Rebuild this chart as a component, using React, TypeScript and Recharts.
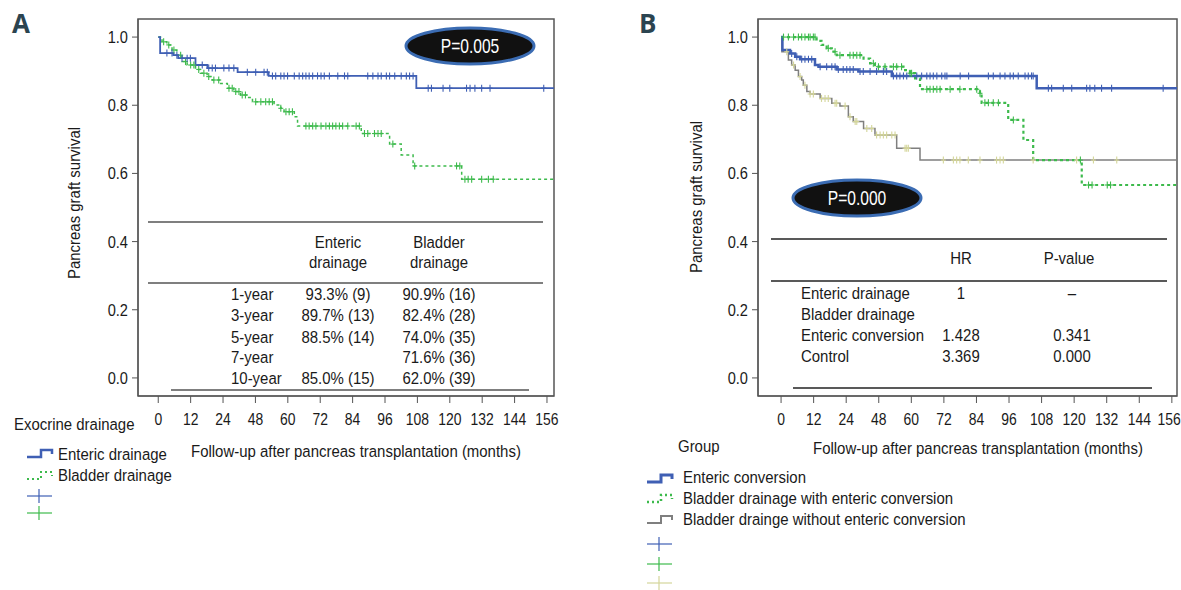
import React from "react";
import {
  ComposedChart,
  Line,
  Scatter,
  XAxis,
  YAxis,
  ReferenceArea,
} from "recharts";

const FONT = "'Liberation Sans', Arial, sans-serif";
const SQUEEZE = 0.88; // the figure uses a condensed face

// axis positions and the labels printed under them (the figure labels them 0,12,24,48,...)
const X_TICKS = [0, 12, 24, 36, 48, 60, 72, 84, 96, 108, 120, 132, 144];
const X_LABELS = ["0", "12", "24", "48", "60", "72", "84", "96", "108", "120", "132", "144", "156"];
const Y_TICKS = [0, 0.2, 0.4, 0.6, 0.8, 1.0];

// Panel A: Kaplan-Meier steps [time, survival]
const A_ENTERIC: [number, number][] = [
  [0, 1], [0.7, 0.953], [5.6, 0.947], [7.4, 0.938], [13.8, 0.918], [18.2, 0.909],
  [29.4, 0.897], [40.9, 0.886], [95.6, 0.85], [146.6, 0.85],
];
const A_BLADDER: [number, number][] = [
  [0, 1], [1.4, 0.986], [3.2, 0.977], [5.1, 0.962], [6.9, 0.947], [8.8, 0.928],
  [10.7, 0.918], [13.8, 0.905], [15.6, 0.894], [18.1, 0.884], [20, 0.874],
  [23.1, 0.864], [25.6, 0.85], [28, 0.84], [30.5, 0.83], [33, 0.823], [34.9, 0.81],
  [42.9, 0.801], [45.4, 0.791], [46.6, 0.781], [50.4, 0.766], [51.6, 0.739],
  [75.2, 0.717], [85.7, 0.686], [90, 0.654], [94.4, 0.622], [112.4, 0.583], [146.6, 0.583],
];
const A_ENTERIC_CENSOR = [
  3.2, 5.1, 6.9, 8.8, 10.7, 11.9, 16.3, 18.7, 20, 21.2, 24.3, 26.2, 28, 33, 36.1, 39.2,
  40.4, 42.3, 43.5, 45.4, 46.6, 47.9, 50.4, 52.2, 53.5, 54.7, 55.9, 57.2, 59, 60.3, 61.5,
  63.4, 66.5, 69, 70.2, 77.6, 79.5, 81.4, 82.6, 84.5, 85.7, 87.6, 90, 91.9, 93.1, 94.4,
  100, 101.2, 105.5, 108, 114.2, 115.5, 117.3, 119.8, 122.9, 142.8,
];
const A_BLADDER_CENSOR = [
  2, 3.9, 5.8, 8.3, 10.1, 12, 13.2, 15, 16.9, 18.7, 20.6, 22.4, 26.2, 27.4, 28.7, 29.9,
  31.1, 32.3, 36.1, 38, 39.8, 41.1, 42.3, 45.4, 47.3, 48.5, 49.7, 54.7, 55.9, 57.2, 58.4,
  60.3, 62.1, 63.4, 64.6, 65.8, 67.1, 68.3, 70.2, 73.3, 74.5, 76.4, 77.6, 80.1, 81.4,
  82.6, 86.9, 95, 110.5, 111.7, 113.6, 114.8, 116.1, 119.8, 122.3, 124.1,
];

// Panel B
const B_ENTERIC: [number, number][] = [
  [0, 1], [0.5, 0.962], [3.3, 0.952], [5.2, 0.942], [7, 0.935], [12.5, 0.918],
  [13.8, 0.913], [20.5, 0.905], [28.5, 0.899], [40.8, 0.886], [94.2, 0.85], [145.9, 0.85],
];
const B_BLADDER_CONV: [number, number][] = [
  [0, 1], [13.1, 0.989], [14.9, 0.977], [16.8, 0.967], [18.7, 0.957], [20.5, 0.947],
  [30.4, 0.937], [32.8, 0.923], [34.6, 0.913], [45.1, 0.903], [47.5, 0.894],
  [49.4, 0.879], [51.2, 0.847], [73.3, 0.835], [73.9, 0.807], [83.7, 0.757],
  [89.3, 0.698], [92.9, 0.639], [110.8, 0.566], [145.9, 0.566],
];
const B_CONTROL: [number, number][] = [
  [0, 1], [0.3, 0.957], [2.7, 0.933], [3.9, 0.918], [5.2, 0.903], [6.4, 0.884],
  [7.6, 0.874], [8.2, 0.859], [9.5, 0.84], [10.7, 0.833], [14.4, 0.82], [18.7, 0.806],
  [21.7, 0.798], [24.8, 0.766], [26.6, 0.752], [30.4, 0.732], [34.6, 0.713],
  [42.6, 0.674], [51.2, 0.639], [145.9, 0.639],
];
const B_ENTERIC_CENSOR = [
  3.9, 5.8, 7.6, 8.8, 10.1, 11.3, 14.4, 16.8, 18.7, 19.9, 21.1, 22.9, 24.2, 25.4, 26.6,
  29.1, 30.3, 32.8, 35.2, 37.7, 38.9, 41.4, 42.6, 43.8, 45.1, 46.3, 50, 51.8, 53.7, 54.9,
  56.1, 57.4, 59.2, 60.4, 61.1, 66, 69.1, 76.4, 78.2, 80.7, 82.5, 84.4, 85.6, 87.4,
  89.9, 91.1, 92.3, 92.9, 98.5, 99.7, 104, 107.1, 112.6, 113.8, 115.6, 118.1, 121.8, 140.8,
];
const B_BLADDER_CONV_CENSOR = [
  0.9, 2.7, 4.6, 6.4, 7.6, 8.8, 10.1, 10.7, 11.9, 12.5, 17.4, 19.9, 21.7, 25.4, 26.6,
  27.9, 29.1, 34, 35.9, 38.3, 41.4, 42.6, 44.4, 47.5, 48.1, 53.7, 54.9, 56.1, 57.4, 58.6,
  62.3, 65.9, 72.1, 73.3, 75.1, 76.4, 78.2, 80.1, 85.6, 110.3, 113.3, 114.6, 120.2, 121.4,
];
const B_CONTROL_CENSOR = [
  2.1, 4.6, 7, 8.8, 10.7, 11.9, 14.9, 16.2, 17.4, 19.9, 20.5, 23.6, 25.4, 27.3, 27.9,
  31.6, 33.4, 35.2, 36.5, 37.7, 38.9, 40.8, 42, 45.7, 46.3, 46.9, 59.8, 63.5, 64.7,
  65.9, 69, 73.3, 79.4, 80.7, 81.9, 92.9, 108.9, 115.1, 123.7,
];

// Tables inside the plots
const A_TABLE_HEAD = [["Enteric", "drainage"], ["Bladder", "drainage"]];
const A_TABLE_ROWS = ["1-year", "3-year", "5-year", "7-year", "10-year"];
const A_TABLE_ENTERIC = ["93.3% (9)", "89.7% (13)", "88.5% (14)", "", "85.0% (15)"];
const A_TABLE_BLADDER = ["90.9% (16)", "82.4% (28)", "74.0% (35)", "71.6% (36)", "62.0% (39)"];

const B_TABLE_HEAD = ["HR", "P-value"];
const B_TABLE_ROWS = ["Enteric drainage", "Bladder drainage", "Enteric conversion", "Control"];
const B_TABLE_HR = ["1", "", "1.428", "3.369"];
const B_TABLE_P = ["–", "", "0.341", "0.000"];

const BLUE = "#3f5fb4";
const GREEN = "#3dba4c";
const GRAY = "#7f7f7f";
const YELLOW = "#d4d69a";
const FRAME = "#555";
const INK = "#1a1a1a";
const Y_DOMAIN: [number, number] = [-0.053, 1.053];

const toRows = (steps: [number, number][]) => steps.map(([t, s]) => ({ t, s }));
const survivalAt = (steps: [number, number][], t: number) => {
  let s = steps[0][1];
  for (const [st, sv] of steps) if (st <= t) s = sv;
  return s;
};
const censorRows = (steps: [number, number][], times: number[]) =>
  times.map((t) => ({ t, s: survivalAt(steps, t) }));

// condensed text: drawn at (x, y) and squeezed horizontally
function CText({
  x, y, children, size = 17, anchor = "start", fill = INK, rotate = 0, squeeze = SQUEEZE, dy,
}: {
  x: number; y: number; children: React.ReactNode; size?: number; anchor?: string;
  fill?: string; rotate?: number; squeeze?: number; dy?: string;
}) {
  return (
    <text
      transform={`translate(${x},${y}) rotate(${rotate}) scale(${squeeze},1)`}
      fontSize={size}
      fill={fill}
      textAnchor={anchor as any}
      fontFamily={FONT}
      dy={dy}
    >
      {children}
    </text>
  );
}

// keeps the last label inside the chart's own box
const makeXTick = (maxX: number) => (props: any) => {
  const { x, y, payload } = props;
  return (
    <CText x={Math.min(x, maxX)} y={y} anchor="middle" dy="0.71em" squeeze={0.82}>
      {X_LABELS[X_TICKS.indexOf(payload.value)] ?? ""}
    </CText>
  );
};
const YTick = (props: any) => {
  const { x, y, payload } = props;
  return (
    <CText x={x} y={y} anchor="end" dy="0.355em" squeeze={0.86}>
      {Number(payload.value).toFixed(1)}
    </CText>
  );
};

const crossShape = (color: string) => (props: any) => {
  const { cx, cy } = props;
  return (
    <g stroke={color} strokeWidth={1.1}>
      <line x1={cx} x2={cx} y1={cy - 3.5} y2={cy + 3.5} />
      <line x1={cx - 2.5} x2={cx + 2.5} y1={cy} y2={cy} />
    </g>
  );
};

type Series = {
  steps: [number, number][];
  censor: number[];
  color: string;
  censorColor: string;
  width: number;
  dash?: string;
};

function KMPanel({
  left, width, marginLeft, marginRight, xDomain, series,
}: {
  left: number; width: number; marginLeft: number; marginRight: number;
  xDomain: [number, number]; series: Series[];
}) {
  const height = 590;
  return (
    <div style={{ position: "absolute", left, top: 0 }}>
      <ComposedChart
        width={width}
        height={height}
        margin={{ top: 19, right: marginRight, bottom: height - 396 - 40, left: marginLeft }}
      >
        <XAxis
          type="number"
          dataKey="t"
          domain={xDomain}
          allowDataOverflow
          ticks={X_TICKS}
          tick={makeXTick(width - 12)}
          tickSize={7}
          tickMargin={10}
          height={40}
          stroke={FRAME}
          interval={0}
        />
        <YAxis
          type="number"
          dataKey="s"
          domain={Y_DOMAIN}
          allowDataOverflow
          ticks={Y_TICKS}
          tick={YTick}
          tickSize={6}
          tickMargin={4}
          width={40}
          stroke={FRAME}
          interval={0}
        />
        <ReferenceArea
          x1={xDomain[0]}
          x2={xDomain[1]}
          y1={Y_DOMAIN[0]}
          y2={Y_DOMAIN[1]}
          fill="none"
          stroke={FRAME}
          strokeWidth={1.5}
          ifOverflow="visible"
        />
        {series.map((sr, i) => (
          <Line
            key={"l" + i}
            data={toRows(sr.steps)}
            dataKey="s"
            type="stepAfter"
            stroke={sr.color}
            strokeWidth={sr.width}
            strokeDasharray={sr.dash}
            dot={false}
            activeDot={false}
            isAnimationActive={false}
          />
        ))}
        {series.map((sr, i) => (
          <Scatter
            key={"c" + i}
            data={censorRows(sr.steps, sr.censor)}
            dataKey="s"
            shape={crossShape(sr.censorColor)}
            isAnimationActive={false}
          />
        ))}
      </ComposedChart>
    </div>
  );
}

function PEllipse({ cx, cy, text }: { cx: number; cy: number; text: string }) {
  return (
    <g>
      <ellipse cx={cx} cy={cy} rx={64} ry={18} fill="#111" stroke="#3b6cb3" strokeWidth={3} />
      <CText x={cx} y={cy + 7} anchor="middle" fill="#fff" size={20} squeeze={0.78}>
        {text}
      </CText>
    </g>
  );
}

function StepIcon({ x, y, color, dash, width }: { x: number; y: number; color: string; dash?: string; width: number }) {
  return (
    <path
      d={`M${x} ${y + 4} H${x + 14} V${y - 3} H${x + 25} V${y + 1}`}
      fill="none"
      stroke={color}
      strokeWidth={width}
      strokeDasharray={dash}
    />
  );
}

function CrossIcon({ x, y, color }: { x: number; y: number; color: string }) {
  return (
    <g stroke={color} strokeWidth={1.2}>
      <line x1={x} x2={x + 25} y1={y} y2={y} />
      <line x1={x + 12} x2={x + 12} y1={y - 7} y2={y + 7} />
    </g>
  );
}

function Overlay() {
  const rowYA = [294, 315, 337, 357, 378];
  const rowYB = [293, 314, 335, 356];
  const headXA = [338, 439];
  return (
    <svg
      width={1181}
      height={590}
      style={{ position: "absolute", left: 0, top: 0, pointerEvents: "none" }}
    >
      {/* panel letters */}
      <text x={12} y={33} fontSize={26} fontWeight="bold" fill="#2b4450" fontFamily="'Open Sans', sans-serif">A</text>
      <text x={639} y={33} fontSize={26} fontWeight="bold" fill="#2b4450" fontFamily="'Open Sans', sans-serif">B</text>

      {/* y axis titles */}
      <CText x={80} y={203} rotate={-90} anchor="middle">Pancreas graft survival</CText>
      <CText x={702} y={197} rotate={-90} anchor="middle">Pancreas graft survival</CText>

      {/* x axis titles */}
      <CText x={191} y={457}>Follow-up after pancreas transplantation (months)</CText>
      <CText x={813} y={454}>Follow-up after pancreas transplantation (months)</CText>

      <PEllipse cx={470} cy={46} text="P=0.005" />
      <PEllipse cx={857} cy={198} text="P=0.000" />

      {/* table A */}
      <g stroke="#555" strokeWidth={1.5}>
        <line x1={148} x2={543} y1={222} y2={222} />
        <line x1={148} x2={543} y1={283} y2={283} />
        <line x1={171} x2={529} y1={390} y2={390} />
      </g>
      {A_TABLE_HEAD.map((h, i) => (
        <g key={i}>
          <CText x={headXA[i]} y={248} anchor="middle">{h[0]}</CText>
          <CText x={headXA[i]} y={268} anchor="middle">{h[1]}</CText>
        </g>
      ))}
      {A_TABLE_ROWS.map((r, i) => (
        <g key={r}>
          <CText x={231} y={rowYA[i] + 6}>{r}</CText>
          <CText x={338} y={rowYA[i] + 6} anchor="middle">{A_TABLE_ENTERIC[i]}</CText>
          <CText x={439} y={rowYA[i] + 6} anchor="middle">{A_TABLE_BLADDER[i]}</CText>
        </g>
      ))}

      {/* table B */}
      <g stroke="#222" strokeWidth={1.5}>
        <line x1={771} x2={1167} y1={239} y2={239} />
        <line x1={771} x2={1167} y1={281} y2={281} />
        <line x1={793} x2={1152} y1={388} y2={388} />
      </g>
      <CText x={961} y={264} anchor="middle">{B_TABLE_HEAD[0]}</CText>
      <CText x={1069} y={264} anchor="middle">{B_TABLE_HEAD[1]}</CText>
      {B_TABLE_ROWS.map((r, i) => (
        <g key={r}>
          <CText x={801} y={rowYB[i] + 6}>{r}</CText>
          <CText x={961} y={rowYB[i] + 6} anchor="middle">{B_TABLE_HR[i]}</CText>
          <CText x={1072} y={rowYB[i] + 6} anchor="middle">{B_TABLE_P[i]}</CText>
        </g>
      ))}

      {/* legend A */}
      <CText x={14} y={430}>Exocrine drainage</CText>
      <StepIcon x={27} y={453} color={BLUE} width={2.5} />
      <CText x={58} y={460}>Enteric drainage</CText>
      <StepIcon x={27} y={475} color={GREEN} width={2} dash="2 3" />
      <CText x={58} y={481}>Bladder drainage</CText>
      <CrossIcon x={27} y={496} color={BLUE} />
      <CrossIcon x={27} y={513} color={GREEN} />

      {/* legend B */}
      <CText x={678} y={452}>Group</CText>
      <StepIcon x={647} y={478} color={BLUE} width={3} />
      <CText x={683} y={483}>Enteric conversion</CText>
      <StepIcon x={647} y={498} color={GREEN} width={2.5} dash="2 3" />
      <CText x={683} y={504}>Bladder drainage with enteric conversion</CText>
      <StepIcon x={647} y={519} color={GRAY} width={2} />
      <CText x={683} y={525}>Bladder drainge without enteric conversion</CText>
      <CrossIcon x={647} y={544} color={BLUE} />
      <CrossIcon x={647} y={564} color={GREEN} />
      <CrossIcon x={647} y={583} color={YELLOW} />
    </svg>
  );
}

export default function App() {
  const seriesA: Series[] = [
    { steps: A_BLADDER, censor: A_BLADDER_CENSOR, color: GREEN, censorColor: GREEN, width: 1.5, dash: "3 3" },
    { steps: A_ENTERIC, censor: A_ENTERIC_CENSOR, color: BLUE, censorColor: BLUE, width: 1.8 },
  ];
  const seriesB: Series[] = [
    { steps: B_CONTROL, censor: B_CONTROL_CENSOR, color: GRAY, censorColor: YELLOW, width: 1.5 },
    { steps: B_BLADDER_CONV, censor: B_BLADDER_CONV_CENSOR, color: GREEN, censorColor: GREEN, width: 2.2, dash: "3 3" },
    { steps: B_ENTERIC, censor: B_ENTERIC_CENSOR, color: BLUE, censorColor: BLUE, width: 2.5 },
  ];
  return (
    <div
      style={{
        position: "absolute",
        left: 0,
        top: 0,
        width: 1181,
        height: 590,
        background: "#fff",
        fontFamily: FONT,
        overflow: "hidden",
      }}
    >
      <KMPanel left={0} width={600} marginLeft={98} marginRight={46} xDomain={[-7.5, 146.6]} series={seriesA} />
      <KMPanel left={600} width={581} marginLeft={118} marginRight={4} xDomain={[-8.5, 145.9]} series={seriesB} />
      <Overlay />
    </div>
  );
}
